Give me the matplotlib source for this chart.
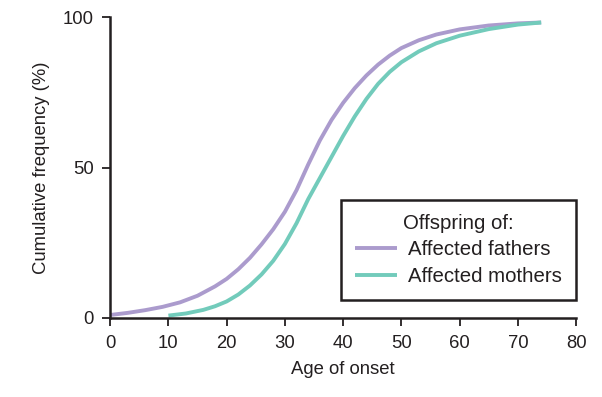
import matplotlib.pyplot as plt

plt.rcParams['font.family'] = ['Liberation Sans', 'DejaVu Sans']

# age of onset (years) and cumulative frequency (%)
age_fathers = [0, 3, 6, 9, 12, 15, 18, 20, 22, 24, 26, 28, 30, 32, 34, 36, 38, 40, 42, 44, 46, 48, 50,
               53, 56, 60, 65, 70, 74]
cum_fathers = [1, 1.7, 2.6, 3.7, 5.2, 7.4, 10.5, 13, 16.2, 20, 24.5, 29.5, 35.3, 42.5, 51, 59, 65.8,
               71.5, 76.4, 80.6, 84.2, 87.2, 89.7, 92.3, 94.2, 95.9, 97.2, 97.9, 98.2]

age_mothers = [10, 13, 16, 18, 20, 22, 24, 26, 28, 30, 32, 34, 36, 38, 40, 42, 44, 46, 48, 50,
               53, 56, 60, 65, 70, 74]
cum_mothers = [0.8, 1.5, 2.7, 3.9, 5.5, 7.8, 10.8, 14.5, 19, 24.6, 31.5, 39.5, 46.5, 53.5, 60.5, 67,
               72.8, 77.8, 81.8, 85, 88.6, 91.3, 93.8, 96, 97.5, 98.2]

labels = ["Affected fathers", "Affected mothers"]
colors = ["#ab9bcd", "#72cbbb"]
ink = "#231f20"

fig = plt.figure(figsize=(6.02, 3.97), dpi=100)
ax = fig.add_axes([0.183, 0.199, 0.774, 0.758])

ax.plot(age_fathers, cum_fathers, color=colors[0], lw=2.8, label=labels[0],
        solid_capstyle='butt', solid_joinstyle='round')
ax.plot(age_mothers, cum_mothers, color=colors[1], lw=2.8, label=labels[1],
        solid_capstyle='butt', solid_joinstyle='round')

ax.set_xlim(0, 80)
ax.set_ylim(0, 100)
ax.set_xticks(range(0, 81, 10))
ax.set_yticks([0, 50, 100])
for s in ["top", "right"]:
    ax.spines[s].set_visible(False)
for s in ["left", "bottom"]:
    ax.spines[s].set_linewidth(1.8)
    ax.spines[s].set_color(ink)
ax.tick_params(direction='out', length=6, width=1.3, labelsize=13.3, colors=ink, pad=6)

ax.set_xlabel("Age of onset", fontsize=13.3, color=ink, labelpad=7)
ax.set_ylabel("Cumulative frequency (%)", fontsize=13.3, color=ink, labelpad=9)

leg = ax.legend(title="Offspring of:", loc='lower right', bbox_to_anchor=(1.0, 0.06),
                borderaxespad=0, fontsize=14.7, title_fontsize=14.7, fancybox=False,
                edgecolor=ink, framealpha=1, handlelength=2.05, handletextpad=0.55,
                borderpad=0.68, labelspacing=0.38)
leg.get_frame().set_linewidth(1.8)
for t in leg.get_texts():
    t.set_color(ink)
leg.get_title().set_color(ink)

plt.savefig("out.png", dpi=100)
plt.close()
